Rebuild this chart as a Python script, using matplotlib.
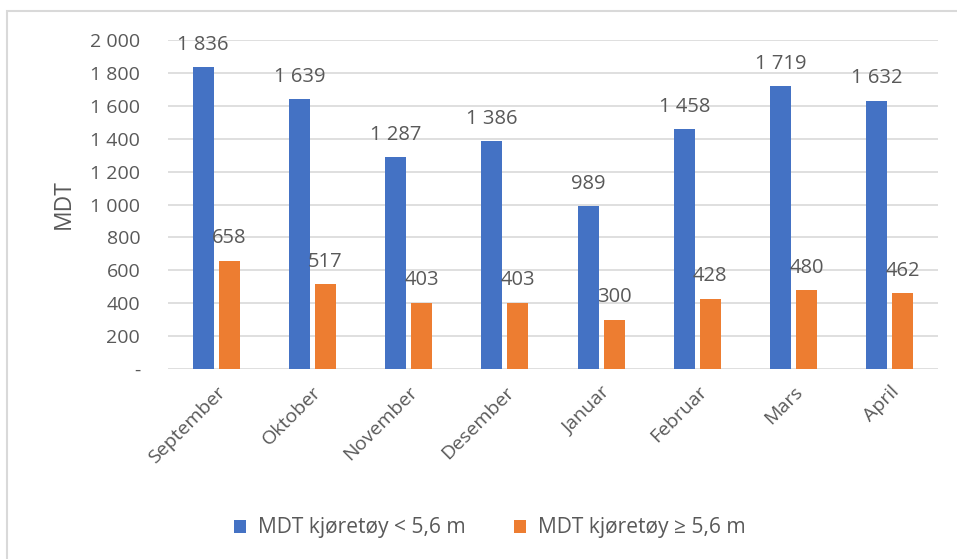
import matplotlib
matplotlib.use("Agg")
import matplotlib.pyplot as plt
import numpy as np
from matplotlib.patches import Rectangle
from matplotlib.ticker import FuncFormatter

months = ["September", "Oktober", "November", "Desember", "Januar", "Februar", "Mars", "April"]
small = [1836, 1639, 1287, 1386, 989, 1458, 1719, 1632]
large = [658, 517, 403, 403, 300, 428, 480, 462]
series_names = ["MDT kjøretøy < 5,6 m", "MDT kjøretøy ≥ 5,6 m"]
yticks = [0, 200, 400, 600, 800, 1000, 1200, 1400, 1600, 1800, 2000]

plt.rcParams['font.family'] = ['Open Sans', 'DejaVu Sans']
txt = '#595959'
blue = '#4472C4'
orange = '#ED7D31'

fig = plt.figure(figsize=(9.57, 5.59), dpi=100)
ax = fig.add_axes([168/957, 1-369/559, (938-168)/957, (369-40)/559])

x = np.arange(len(months))
w = 0.22
off = 0.135
b1 = ax.bar(x - off, small, w, color=blue, label=series_names[0], zorder=3)
b2 = ax.bar(x + off, large, w, color=orange, label=series_names[1], zorder=3)

def fmt(v):
    v = int(round(v))
    if v == 0:
        return "-"
    s = f"{v:,}".replace(",", " ")
    return s

for bars, vals in ((b1, small), (b2, large)):
    for r, v in zip(bars, vals):
        ax.text(r.get_x() + r.get_width()/2, v + 75, fmt(v), ha='center', va='bottom',
                fontsize=14.5, color=txt, zorder=4)

ax.set_xlim(-0.5, len(months) - 0.5)
ax.set_ylim(0, 2000)
ax.set_yticks(yticks)
ax.yaxis.set_major_formatter(FuncFormatter(lambda v, p: fmt(v)))
ax.set_xticks(x)
ax.set_xticklabels(months, rotation=45, ha='right', rotation_mode='anchor')
ax.tick_params(axis='both', length=0, labelsize=14, colors=txt)
ax.tick_params(axis='y', pad=20)
ax.tick_params(axis='x', pad=10)
ax.grid(axis='y', color='#D9D9D9', linewidth=1.2, zorder=0)
for s in ax.spines.values():
    s.set_visible(False)
ax.set_ylabel("MDT", fontsize=16.5, color=txt, labelpad=10)

leg = fig.legend(handles=[b1, b2], labels=series_names, loc='center', bbox_to_anchor=(490/957, 1-528/559),
                 ncol=2, frameon=False, fontsize=15.1, handlelength=0.57, handleheight=0.57,
                 columnspacing=2.3, handletextpad=0.57)
for t in leg.get_texts():
    t.set_color(txt)

fig.patches.append(Rectangle((7/957, -0.1), 1.2, 1-11/559+0.1, transform=fig.transFigure,
                             fill=False, edgecolor='#D9D9D9', linewidth=1.5))

fig.savefig("out.png", dpi=100)
